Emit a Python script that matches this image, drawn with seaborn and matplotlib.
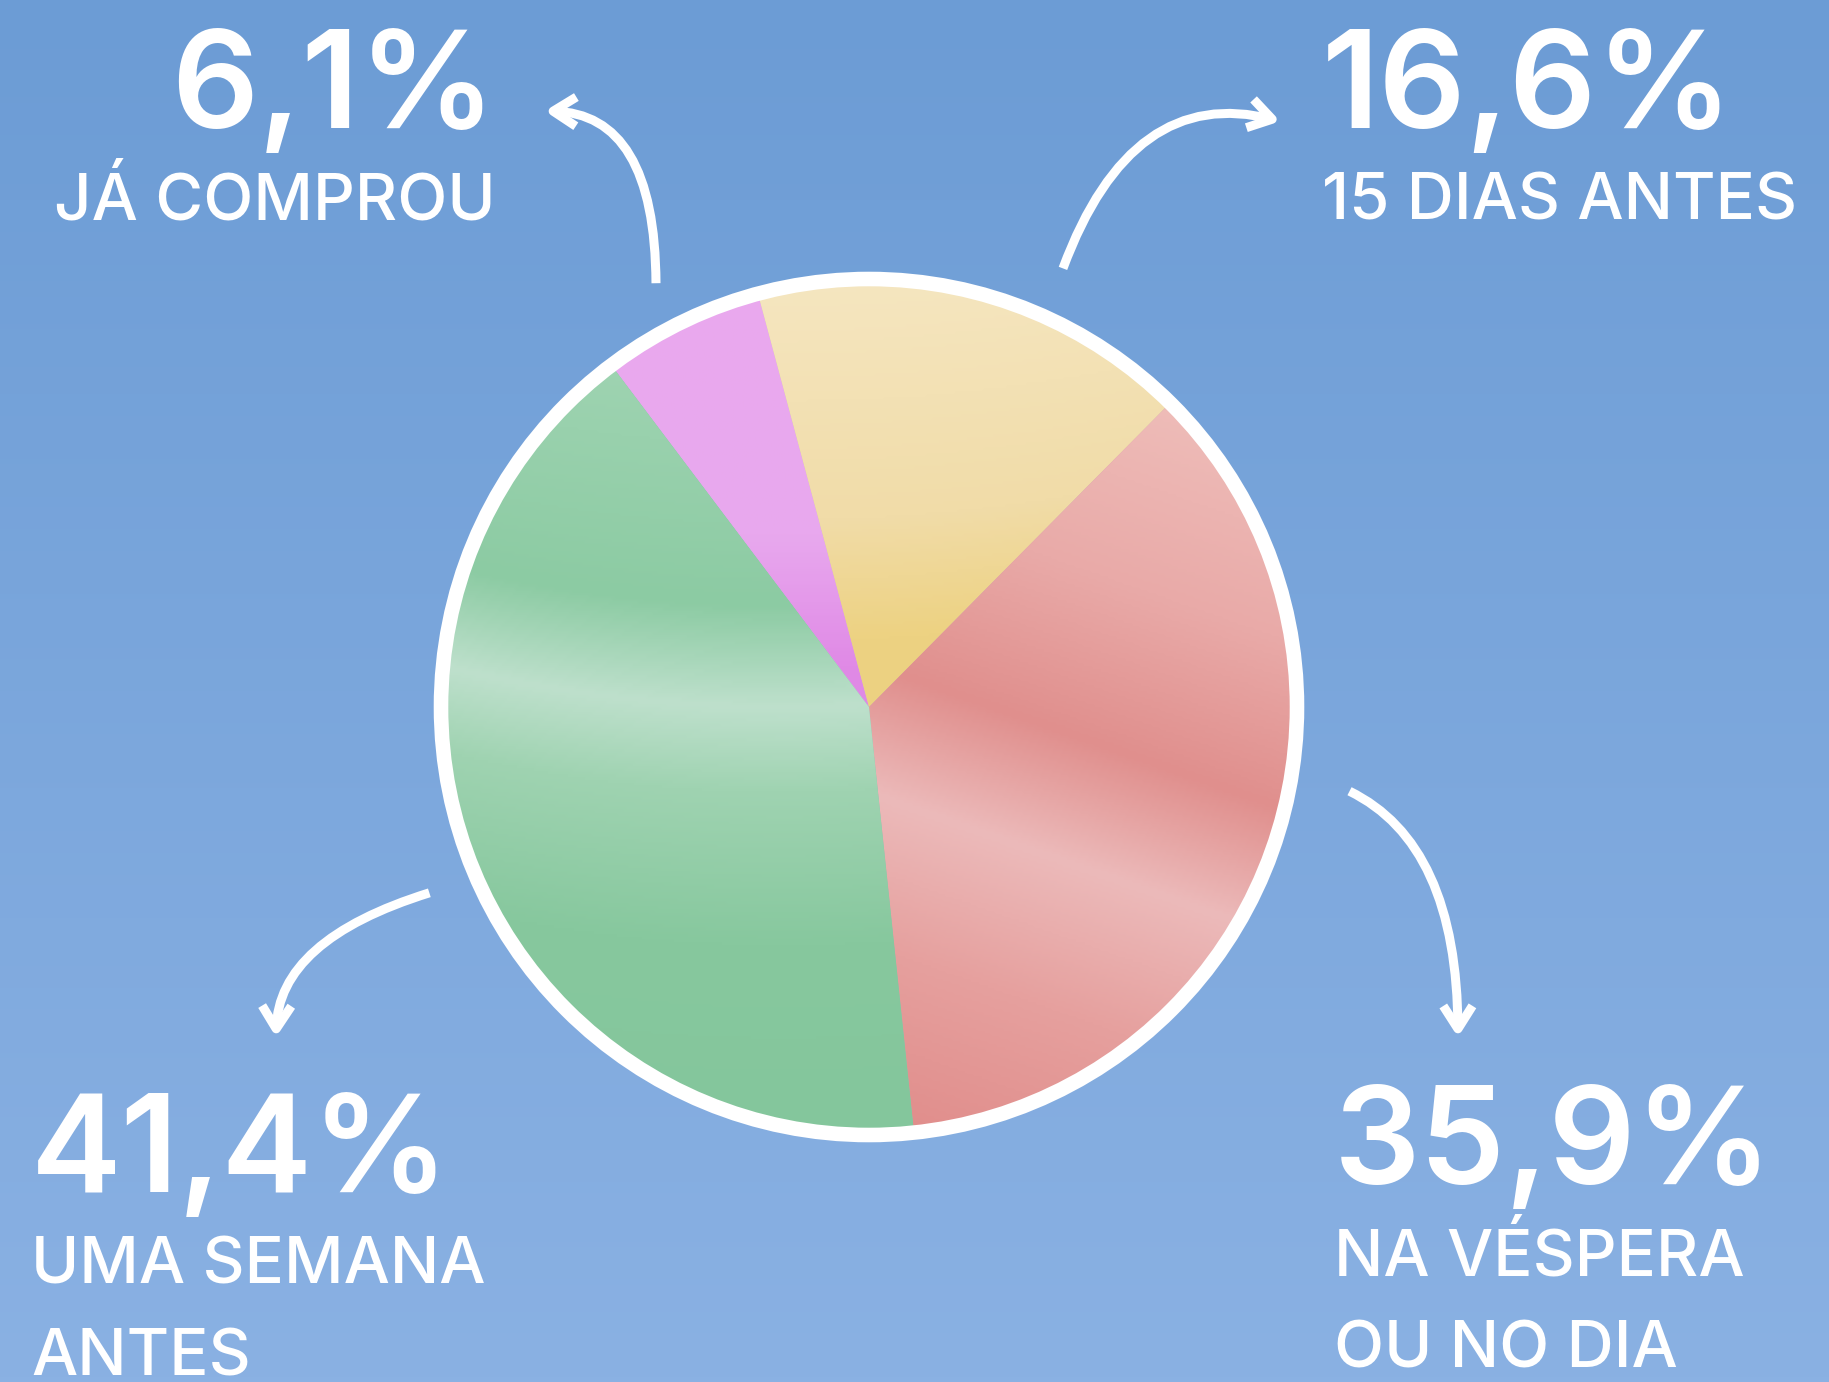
import matplotlib
matplotlib.use("Agg")
import matplotlib.pyplot as plt
import seaborn as sns
import numpy as np
from matplotlib.colors import LinearSegmentedColormap
from matplotlib.patches import Circle, FancyArrowPatch

# dados (ordem do gráfico, sentido horário a partir do topo-esquerda)
categorias = ["JÁ COMPROU", "15 DIAS ANTES", "NA VÉSPERA\nOU NO DIA", "UMA SEMANA\nANTES"]
percentuais = [6.1, 16.6, 35.9, 41.4]
cores = ["#e6a2ea", "#f0da9c", "#e9a19f", "#8ecfa5"]

# tons "aquarela" de cada fatia (de cima para baixo) e inclinação/curvatura das faixas
aquarela = [
    [(0, "#eaa9ee"), (0.3, "#e8a8ee"), (0.45, "#e08ae6"), (1, "#df86e5")],
    [(0, "#f5e6c0"), (0.28, "#f1dca8"), (0.42, "#edd282"), (1, "#ebcf7c")],
    [(0, "#efbeba"), (0.25, "#e9aaa8"), (0.45, "#e08f8d"), (0.6, "#ecbaba"), (0.78, "#e6a09e"), (1, "#e08c8a")],
    [(0, "#a6d7b7"), (0.38, "#8ccba3"), (0.5, "#bee0cc"), (0.6, "#9fd3b1"), (0.78, "#87c89e"), (1, "#84c69c")],
]
inclinacao = [0.0, 0.0, 0.35, 0.0]
curvatura = [0.0, 0.25, 0.0, 0.3]

sns.set_theme(style="white")
plt.rcParams['font.family'] = ['Inter', 'DejaVu Sans']

W, H = 1829, 1382
fig = plt.figure(figsize=(W / 100, H / 100), dpi=100)
ax = fig.add_axes([0, 0, 1, 1])

# fundo azul com leve gradiente
fundo = LinearSegmentedColormap.from_list("fundo", ["#6c9cd5", "#8ab1e3"])
grad = np.linspace(0, 1, 256).reshape(-1, 1)
ax.imshow(grad, cmap=fundo, extent=[0, W, 0, H], aspect="auto", origin="upper", zorder=0)

# pizza
cx, cy, raio = 869, 675, 428
fatias, _ = ax.pie(percentuais, colors=cores, startangle=127, counterclock=False,
                   center=(cx, cy), radius=raio, wedgeprops=dict(linewidth=0, zorder=2))

gx, gy = np.meshgrid(np.linspace(0, 1, 300), np.linspace(0, 1, 300))
for fatia, tons, inc, cur in zip(fatias, aquarela, inclinacao, curvatura):
    cmap = LinearSegmentedColormap.from_list("aq", tons)
    campo = np.clip(gy - inc * (gx - 0.5) + cur * (gx - 0.4) ** 2, 0, 1)
    im = ax.imshow(campo, cmap=cmap, vmin=0, vmax=1, extent=[cx - raio, cx + raio, cy - raio, cy + raio],
                   aspect="auto", origin="upper", zorder=2.5, interpolation="bilinear")
    im.set_clip_path(fatia)
ax.add_patch(Circle((cx, cy), raio, fill=False, edgecolor="white", linewidth=10.5, zorder=3))

ax.set_xlim(0, W)
ax.set_ylim(0, H)
ax.set_aspect("auto")
ax.axis("off")


def rotulo(x, y, idx, ha):
    txt = f"{percentuais[idx]:.1f}".replace(".", ",") + "%"
    ax.text(x, y, txt, color="white", fontsize=98, fontweight="semibold", ha=ha, va="baseline", zorder=5)
    for i, linha in enumerate(categorias[idx].split("\n")):
        ax.text(x, y - 91 - i * 93, linha, color="white", fontsize=47, fontweight="medium",
                ha=ha, va="baseline", zorder=5)


rotulo(496, 1254, 0, "right")
rotulo(1322, 1254, 1, "left")
rotulo(1334, 198, 2, "left")
rotulo(31, 190, 3, "left")


def seta(p0, p1, a, b):
    arr = FancyArrowPatch(p0, p1, connectionstyle=f"angle3,angleA={a},angleB={b}",
                          arrowstyle="->,head_length=0.55,head_width=0.35", mutation_scale=30,
                          color="white", linewidth=6.5, zorder=4, capstyle="butt")
    ax.add_patch(arr)


seta((656, 1096), (542, 1271), 90, 0)
seta((1062, 1111), (1283, 1260), 70, -15)
seta((1347, 592), (1458, 342), -25, -90)
seta((432, 490), (276, 342), 17, 90)

fig.savefig("out.png", dpi=100)
